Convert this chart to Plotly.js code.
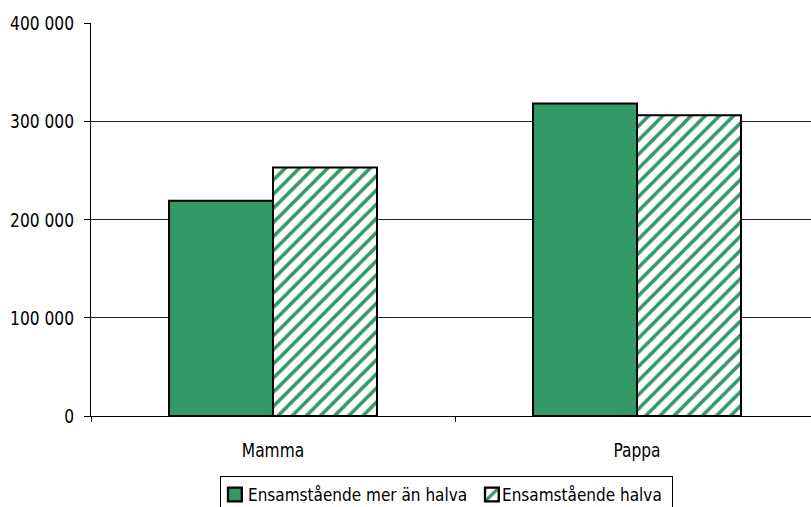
<!DOCTYPE html>
<html>
<head>
<meta charset="utf-8">
<script src="https://cdn.plot.ly/plotly-3.0.1.min.js"></script>
<style>html,body{margin:0;padding:0;background:#fff;overflow:hidden;}#chart{width:819px;height:507px;}</style>
</head>
<body>
<div id="chart"></div>
<script>
const categories = ["Mamma", "Pappa"];
const seriesNames = ["Ensamstående mer än halva", "Ensamstående halva"];
const merAnHalva = [219000, 318000];
const halva = [253000, 306000];
const yTickVals = [0, 100000, 200000, 300000, 400000];
const yTickText = ["0", "100 000", "200 000", "300 000", "400 000"];

const green = "#339966";
const fontFam = "'DejaVu Sans Condensed', 'DejaVu Sans', sans-serif";

const traces = [
  {
    type: "bar", name: seriesNames[0], x: categories, y: merAnHalva,
    marker: {color: green, line: {color: "#000", width: 2}}
  },
  {
    type: "bar", name: seriesNames[1], x: categories, y: halva,
    marker: {color: "#fff", line: {color: "#000", width: 2},
      pattern: {shape: "/", fgcolor: green, bgcolor: "#fff", size: 10, solidity: 0.35, fillmode: "replace"}}
  }
];

const layout = {
  width: 819, height: 507,
  margin: {l: 91, r: 0, t: 23, b: 91},
  paper_bgcolor: "#fff", plot_bgcolor: "#fff",
  font: {family: fontFam, size: 20, color: "#000"},
  barmode: "group", bargap: 0.4286, bargroupgap: 0,
  showlegend: true,
  legend: {orientation: "h", xref: "container", yref: "container",
    x: 446 / 819, xanchor: "center", y: (507 - 476) / 507, yanchor: "top",
    bordercolor: "#000", borderwidth: 1, font: {size: 17, family: fontFam, color: "#000"},
    tracegroupgap: 0},
  xaxis: {
    showline: true, linecolor: "#000", linewidth: 1,
    ticks: "outside", tickson: "boundaries", ticklen: 5, tickcolor: "#000",
    showgrid: false, ticklabelstandoff: 16, tickfont: {size: 20, family: fontFam}
  },
  yaxis: {
    range: [0, 400000], tickvals: yTickVals, ticktext: yTickText,
    showline: true, linecolor: "#000", linewidth: 1,
    ticks: "outside", ticklen: 6, tickcolor: "#000",
    showgrid: true, gridcolor: "#222", gridwidth: 1, zeroline: false,
    ticklabelstandoff: 6, tickfont: {size: 20, family: fontFam}
  }
};

function shiftX(el, dx) {
  el.setAttribute("transform", (el.getAttribute("transform") || "") + " translate(" + dx + ",0)");
}

Plotly.newPlot("chart", traces, layout, {displayModeBar: false, staticPlot: true}).then(function (gd) {
  // narrow the axis labels horizontally to mimic the condensed typeface
  const s = 0.86;
  gd.querySelectorAll(".xtick text, .ytick text").forEach(function (t) {
    const x = parseFloat(t.getAttribute("x") || "0");
    const tr = t.getAttribute("transform") || "";
    t.setAttribute("transform", tr + " translate(" + x + ",0) scale(" + s + ",1) translate(" + (-x) + ",0)");
  });
  // tighten the legend like the original
  try {
    const items = gd.querySelectorAll(".legend .traces");
    const targets = [{sym: 228, text: 248}, {sym: 485, text: 502}];
    items.forEach(function (g, i) {
      const pts = g.querySelector(".legendpoints");
      pts.querySelectorAll("path").forEach(function (p) {
        p.setAttribute("transform", (p.getAttribute("transform") || "") + " scale(1.15)");
      });
      const r = pts.getBoundingClientRect();
      shiftX(g, targets[i].sym - r.left);
      const t = g.querySelector(".legendtext");
      const rt = t.getBoundingClientRect();
      shiftX(t, targets[i].text - rt.left);
    });
    const bg = gd.querySelector(".legend rect.bg");
    const rb = bg.getBoundingClientRect();
    const x0 = parseFloat(bg.getAttribute("x") || "0");
    bg.setAttribute("x", x0 + (220 - rb.left));
    bg.setAttribute("width", 672 - 220);
  } catch (e) {}
});
</script>
</body>
</html>
